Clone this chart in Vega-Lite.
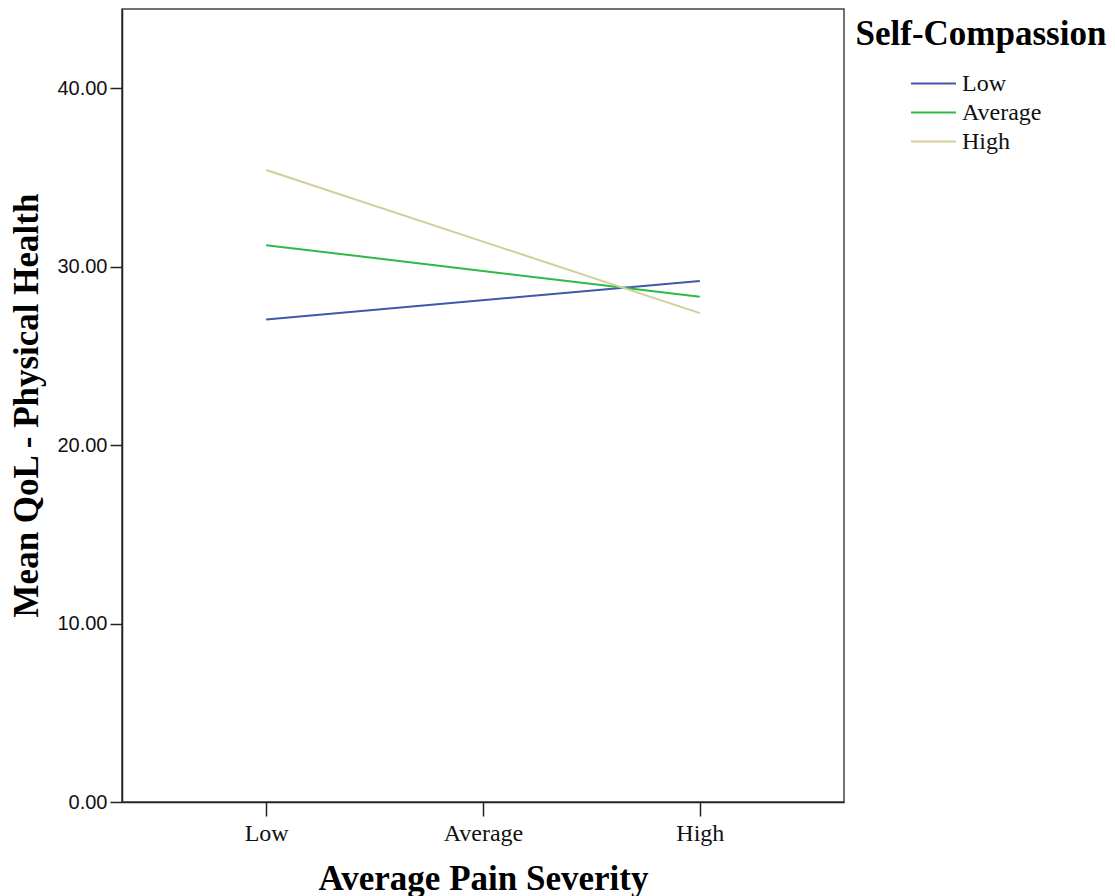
{
  "$schema": "https://vega.github.io/schema/vega-lite/v6.json",
  "autosize": "none",
  "width": 722,
  "height": 793,
  "padding": {"left": 122, "top": 9, "right": 271, "bottom": 94},
  "background": "white",
  "config": {
    "view": {"stroke": "#444444", "strokeWidth": 1.5},
    "axis": {"domainColor": "#222222", "domainWidth": 1.5, "tickColor": "#222222", "tickWidth": 1.5, "grid": false}
  },
  "data": {
    "values": [
      {"pain": "Low", "sc": "Low", "qol": 27.04},
      {"pain": "High", "sc": "Low", "qol": 29.19},
      {"pain": "Low", "sc": "Average", "qol": 31.2},
      {"pain": "High", "sc": "Average", "qol": 28.31},
      {"pain": "Low", "sc": "High", "qol": 35.41},
      {"pain": "High", "sc": "High", "qol": 27.39}
    ]
  },
  "mark": {"type": "line", "strokeWidth": 2},
  "encoding": {
    "x": {
      "field": "pain", "type": "ordinal",
      "scale": {"type": "point", "domain": ["Low", "Average", "High"], "padding": 0.665},
      "axis": {
        "title": "Average Pain Severity",
        "titleFont": "Liberation Serif", "titleFontSize": 35, "titleFontWeight": "bold", "titleColor": "#000000",
        "titleBaseline": "alphabetic", "titleY": 87,
        "labelFont": "Liberation Serif", "labelFontSize": 24, "labelColor": "#111111", "labelAngle": 0,
        "tickSize": 14, "labelPadding": 5
      }
    },
    "y": {
      "field": "qol", "type": "quantitative",
      "scale": {"domain": [0, 44.43], "nice": false, "zero": true},
      "axis": {
        "title": "Mean QoL - Physical Health",
        "titleFont": "Liberation Serif", "titleFontSize": 35, "titleFontWeight": "bold", "titleColor": "#000000",
        "titleAngle": -90, "titleBaseline": "alphabetic", "titleX": -85, "titleY": 396,
        "values": [0, 10, 20, 30, 40], "format": ".2f",
        "labelFont": "Liberation Sans", "labelFontSize": 20, "labelColor": "#111111",
        "tickSize": 12, "labelPadding": 3
      }
    },
    "color": {
      "field": "sc", "type": "nominal",
      "scale": {"domain": ["Low", "Average", "High"], "range": ["#3e58ac", "#2eb848", "#d3ce97"]},
      "legend": {
        "title": "Self-Compassion",
        "orient": "none", "legendX": 734, "legendY": 8,
        "titleFont": "Liberation Serif", "titleFontSize": 35, "titleFontWeight": "bold", "titleColor": "#000000",
        "titleLimit": 400,
        "titleAnchor": "middle", "titlePadding": 19,
        "labelFont": "Liberation Serif", "labelFontSize": 24, "labelColor": "#111111", "labelOffset": 16,
        "symbolType": "M-2,0H2", "symbolSize": 506, "symbolStrokeWidth": 2,
        "rowPadding": 4
      }
    }
  }
}
